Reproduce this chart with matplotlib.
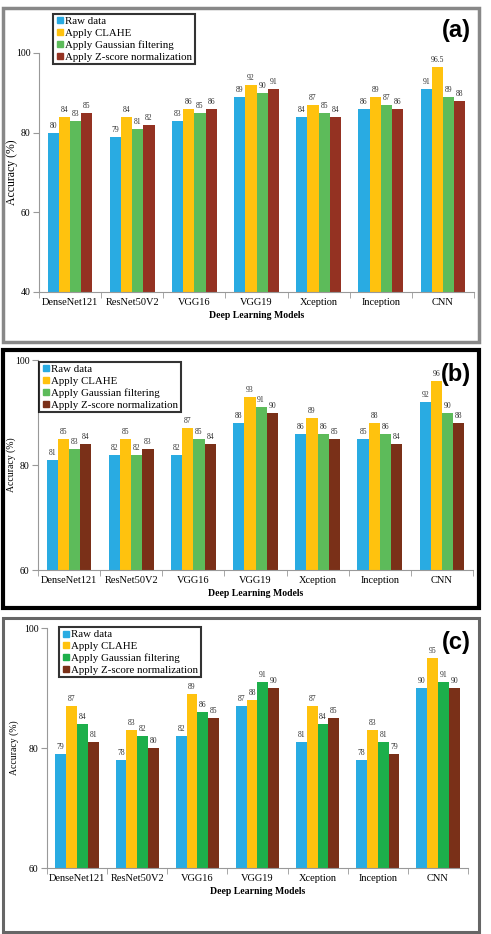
import numpy as np
import matplotlib
matplotlib.use("Agg")
import matplotlib.pyplot as plt
from matplotlib.patches import Rectangle
from matplotlib.lines import Line2D

plt.rcParams['font.family'] = ['Liberation Serif', 'DejaVu Serif']

models = ["DenseNet121", "ResNet50V2", "VGG16", "VGG19", "Xception", "Inception", "CNN"]
series = ["Raw data", "Apply CLAHE", "Apply Gaussian filtering", "Apply Z-score normalization"]

# panel (a)
a_raw = [80, 79, 83, 89, 84, 86, 91]
a_clahe = [84, 84, 86, 92, 87, 89, 96.5]
a_gauss = [83, 81, 85, 90, 85, 87, 89]
a_z = [85, 82, 86, 91, 84, 86, 88]

# panel (b)
b_raw = [81, 82, 82, 88, 86, 85, 92]
b_clahe = [85, 85, 87, 93, 89, 88, 96]
b_gauss = [83, 82, 85, 91, 86, 86, 90]
b_z = [84, 83, 84, 90, 85, 84, 88]

# panel (c)
c_raw = [79, 78, 82, 87, 81, 78, 90]
c_clahe = [87, 83, 89, 88, 87, 83, 95]
c_gauss = [84, 82, 86, 91, 84, 81, 91]
c_z = [81, 80, 85, 90, 85, 79, 90]

W, H = 491, 934
fig = plt.figure(figsize=(W / 100, H / 100), dpi=100)


def fx(x):
    return x / W


def fy(y):
    return 1 - y / H


def panel(box, data, colors, ymin, yticks, tag, tag_y, ylab_x, ylab_fs, legbox, border, bcol, blw):
    x0, y0, x1, y1 = box
    ax = fig.add_axes([fx(x0), fy(y1), fx(x1 - x0), (y1 - y0) / H])
    idx = np.arange(len(models))
    w = 0.18
    for k, vals in enumerate(data):
        pos = idx + (k - 1.5) * w
        bars = ax.bar(pos, vals, w, color=colors[k], label=series[k], zorder=2)
        for b, v in zip(bars, vals):
            ax.annotate(f"{v:g}", (b.get_x() + w / 2, v), xytext=(0, 2),
                        textcoords="offset points", ha="center", va="bottom",
                        fontsize=5.5, color="#333333")
    ax.set_xlim(-0.5, len(models) - 0.5)
    ax.set_ylim(ymin, 100)
    ax.set_yticks(yticks)
    ax.set_xticks(idx)
    ax.set_xticklabels(models)
    ax.set_xticks(np.arange(-0.5, len(models)), minor=True)
    ax.tick_params(axis="x", which="major", length=0, labelsize=7.5, pad=4)
    ax.tick_params(axis="x", which="minor", length=4, color="#999999")
    ax.tick_params(axis="y", length=4, color="#999999", labelsize=7, pad=2)
    for s in ["top", "right"]:
        ax.spines[s].set_visible(False)
    for s in ["left", "bottom"]:
        ax.spines[s].set_color("#999999")
    ax.set_ylabel("Accuracy (%)", fontsize=ylab_fs)
    # label coordinate is the right edge of the rotated text
    ax.yaxis.set_label_coords(fx(ylab_x), fy((y0 + y1) / 2), transform=fig.transFigure)
    ax.set_xlabel("Deep Learning Models", fontsize=7, fontweight="bold", labelpad=3)
    ax.patch.set_alpha(0)

    handles = [Line2D([], [], marker="s", ls="", color=c, markersize=4) for c in colors]
    lx, ly = legbox
    leg = fig.legend(handles, series, loc="upper left", bbox_to_anchor=(fx(lx), fy(ly)),
                     fontsize=7.8, frameon=True, fancybox=False, borderpad=0.25,
                     handletextpad=0.1, handlelength=0.8, labelspacing=0.2,
                     borderaxespad=0)
    leg.get_frame().set_edgecolor("black")
    leg.get_frame().set_linewidth(1.5)

    fig.text(fx(471), fy(tag_y), tag, ha="right", va="center", fontsize=17,
             fontweight="bold", family="Liberation Sans", zorder=10)
    bx0, by0, bx1, by1 = border
    fig.patches.append(Rectangle((fx(bx0), fy(by1)), fx(bx1 - bx0), (by1 - by0) / H,
                                 transform=fig.transFigure, fill=False,
                                 edgecolor=bcol, linewidth=blw))
    return ax


blue, yellow = "#29ABE2", "#FFC20E"
panel((39, 53, 474, 292), [a_raw, a_clahe, a_gauss, a_z],
      [blue, yellow, "#5DBB5A", "#943222"], 40, [40, 60, 80, 100], "(a)", 30, 18, 8.5,
      (53, 14), (3, 8, 479, 342), "#888888", 2.5)
panel((38, 360, 473, 570), [b_raw, b_clahe, b_gauss, b_z],
      [blue, yellow, "#5DBB5A", "#7A3018"], 60, [60, 80, 100], "(b)", 374, 16, 7,
      (39, 362), (3, 350, 479, 608), "black", 3)
panel((47, 628, 468, 868), [c_raw, c_clahe, c_gauss, c_z],
      [blue, yellow, "#1DAF4B", "#7A3018"], 60, [60, 80, 100], "(c)", 642, 19, 7,
      (59, 627), (3, 618, 479, 932), "#666666", 2.2)

fig.savefig("out.png", dpi=100, facecolor="white")
